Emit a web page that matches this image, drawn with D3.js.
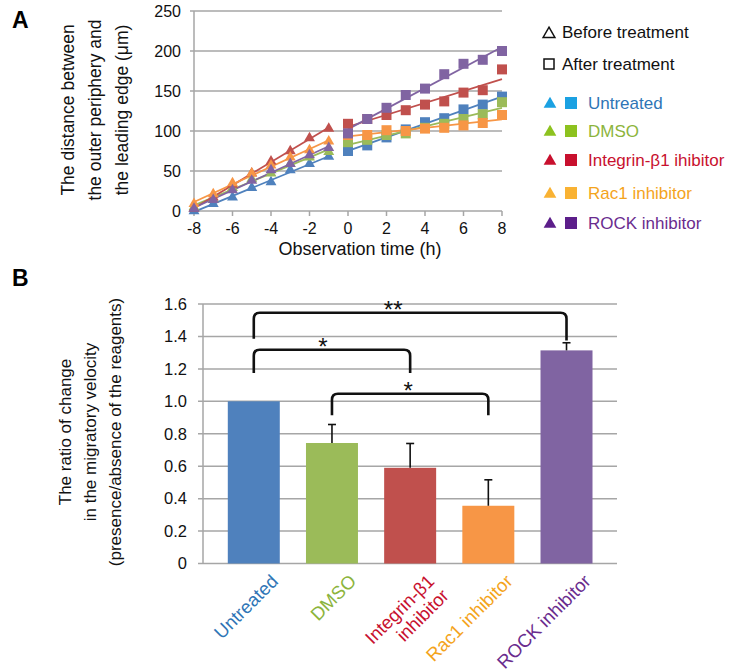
<!DOCTYPE html>
<html><head><meta charset="utf-8">
<script src="https://cdn.jsdelivr.net/npm/d3@7"></script>
<style>
body{margin:0;background:#fff;}
svg{display:block;font-family:"Liberation Sans",Arial,sans-serif;}
</style></head>
<body>
<svg id="c" width="745" height="672"></svg>
<script>
// ---------- DATA ----------
const groups = ["Untreated","DMSO","Integrin-β1 ihibitor","Rac1 inhibitor","ROCK inhibitor"];
const beforeTime = [-8,-7,-6,-5,-4,-3,-2,-1];
const afterTime = [0,1,2,3,4,5,6,7,8];
const untreatedBefore = [0, 9, 17, 29, 36, 51, 59, 68];
const dmsoBefore      = [5, 15, 29, 40, 47, 59, 67, 74];
const integrinBefore  = [3, 17, 33, 47, 62, 75, 91, 103];
const rac1Before      = [9, 21, 35, 47, 57, 67, 76, 87];
const rockBefore      = [3, 14, 26, 38, 51, 59, 70, 79];
const untreatedAfter = [75, 82, 92, 102, 111, 116, 127, 133, 143];
const dmsoAfter      = [86, 89, 95, 97, 104, 109, 115, 121, 136];
const integrinAfter  = [109, 115, 120, 126, 133, 137, 148, 151, 177];
const rac1After      = [95, 95, 101, 100, 103, 104, 107, 110, 120];
const rockAfter      = [97, 115, 129, 145, 153, 171, 184, 189, 200];
const yTicksA = [0,50,100,150,200,250];
const xTicksA = [-8,-6,-4,-2,0,2,4,6,8];

const barCategories = ["Untreated","DMSO","Integrin-β1\ninhibitor","Rac1 inhibitor","ROCK inhibitor"];
const barValues = [1.0, 0.743, 0.59, 0.356, 1.314];
const barErrors = [0, 0.114, 0.15, 0.16, 0.047];
const yTicksB = [0,0.2,0.4,0.6,0.8,1.0,1.2,1.4,1.6];
const brackets = [
  {from:0, to:4, top:1.546, legL:1.386, legR:1.375, label:"**", dx:-17},
  {from:0, to:2, top:1.318, legL:1.174, legR:1.174, label:"*", dx:-9},
  {from:1, to:3, top:1.047, legL:0.914, legR:0.914, label:"*", dx:-2}
];

// ---------- STYLE ----------
const seriesColor = ["#4F81BD","#9BBB59","#C0504D","#F79646","#8064A2"];
const legendMarkColor = ["#1BA1E2","#8DC21F","#C8102E","#F9B233","#5C1E8A"];
const legendTextColor = ["#2E75B6","#8CB43C","#C8102E","#F4A41C","#6A2C8E"];
const grid = "#a6a6a6";

const svg = d3.select("#c");
const beforeSeries = [untreatedBefore,dmsoBefore,integrinBefore,rac1Before,rockBefore];
const afterSeries = [untreatedAfter,dmsoAfter,integrinAfter,rac1After,rockAfter];

// ---------- PANEL A ----------
const xA = d3.scaleLinear().domain([-8,8]).range([194,502]);
const yA = d3.scaleLinear().domain([0,250]).range([211,11]);
const gA = svg.append("g");

gA.selectAll("line.grid").data(yTicksA.filter(d=>d>0)).join("line")
  .attr("x1",190).attr("x2",502).attr("y1",d=>yA(d)).attr("y2",d=>yA(d))
  .attr("stroke",grid).attr("stroke-width",1.5);
gA.append("line").attr("x1",xA(-8)).attr("x2",xA(-8)).attr("y1",yA(250)).attr("y2",yA(0)).attr("stroke",grid).attr("stroke-width",1.5);
gA.append("line").attr("x1",190).attr("x2",xA(8)).attr("y1",yA(0)).attr("y2",yA(0)).attr("stroke",grid).attr("stroke-width",1.5);
gA.selectAll("line.xt").data(xTicksA).join("line")
  .attr("x1",d=>xA(d)).attr("x2",d=>xA(d)).attr("y1",yA(0)).attr("y2",yA(0)+5)
  .attr("stroke",grid).attr("stroke-width",1.5);
gA.selectAll("text.yt").data(yTicksA).join("text")
  .attr("x",181).attr("y",d=>yA(d)).attr("dy","0.35em").attr("text-anchor","end")
  .attr("font-size",16).attr("fill","#111").text(d=>d);
gA.selectAll("text.xt").data(xTicksA).join("text")
  .attr("x",d=>xA(d)).attr("y",234).attr("text-anchor","middle")
  .attr("font-size",16).attr("fill","#111").text(d=>d);
gA.append("text").attr("x",360).attr("y",255).attr("text-anchor","middle")
  .attr("font-size",18).attr("fill","#111").text("Observation time (h)");
const yLabA = ["The distance between","the outer periphery and","the leading edge (μm)"];
yLabA.forEach((t,i)=>{
  gA.append("text").attr("transform",`translate(${74+i*27},110) rotate(-90)`)
    .attr("text-anchor","middle").attr("font-size",17.5).attr("fill","#111").text(t);
});
svg.append("text").attr("x",12).attr("y",28).attr("font-size",23).attr("font-weight","bold").text("A");

function fit(xs,ys){
  const mx=d3.mean(xs), my=d3.mean(ys);
  let sxy=0,sxx=0; xs.forEach((x,i)=>{sxy+=(x-mx)*(ys[i]-my); sxx+=(x-mx)*(x-mx);});
  const b=sxy/sxx, a=my-b*mx; return x=>a+b*x;
}
const tri = d3.symbol().type(d3.symbolTriangle).size(52);
const sq = d3.symbol().type(d3.symbolSquare).size(100);
groups.forEach((g,i)=>{
  const c = seriesColor[i];
  const fb = fit(beforeTime,beforeSeries[i]);
  const fa = fit(afterTime,afterSeries[i]);
  gA.append("line").attr("x1",xA(-8)).attr("y1",yA(fb(-8))).attr("x2",xA(-1)).attr("y2",yA(fb(-1)))
    .attr("stroke",c).attr("stroke-width",1.8);
  gA.append("line").attr("x1",xA(0)).attr("y1",yA(fa(0))).attr("x2",xA(8)).attr("y2",yA(fa(8)))
    .attr("stroke",c).attr("stroke-width",1.8);
});
groups.forEach((g,i)=>{
  const c = seriesColor[i];
  gA.selectAll(null).data(beforeTime.map((t,k)=>[t,beforeSeries[i][k]])).join("path")
    .attr("d",tri).attr("transform",d=>`translate(${xA(d[0])},${yA(d[1])})`).attr("fill",c);
  gA.selectAll(null).data(afterTime.map((t,k)=>[t,afterSeries[i][k]])).join("path")
    .attr("d",sq).attr("transform",d=>`translate(${xA(d[0])},${yA(d[1])})`).attr("fill",c);
});
// legend
const lg = svg.append("g");
lg.append("path").attr("d",d3.symbol().type(d3.symbolTriangle).size(60)).attr("transform","translate(549,34)")
  .attr("fill","none").attr("stroke","#111").attr("stroke-width",1.5);
lg.append("text").attr("x",562).attr("y",38).attr("font-size",17).attr("fill","#111").text("Before treatment");
lg.append("rect").attr("x",544).attr("y",59).attr("width",10).attr("height",10)
  .attr("fill","none").attr("stroke","#111").attr("stroke-width",1.5);
lg.append("text").attr("x",562).attr("y",70).attr("font-size",17).attr("fill","#111").text("After treatment");
const legY = [103,131,160,193,223];
groups.forEach((g,i)=>{
  lg.append("path").attr("d",d3.symbol().type(d3.symbolTriangle).size(70))
    .attr("transform",`translate(550,${legY[i]+1})`).attr("fill",legendMarkColor[i]);
  lg.append("rect").attr("x",565).attr("y",legY[i]-6).attr("width",12).attr("height",12).attr("fill",legendMarkColor[i]);
  lg.append("text").attr("x",588).attr("y",legY[i]).attr("dy","0.35em").attr("font-size",17)
    .attr("fill",legendTextColor[i]).text(g);
});

// ---------- PANEL B ----------
const xB = d3.scaleBand().domain(barCategories).range([214.7,605.6]).paddingInner(0.335).paddingOuter(0.1675);
const yB = d3.scaleLinear().domain([0,1.6]).range([563.5,304]);
const gB = svg.append("g");
gB.selectAll("line.grid").data(yTicksB).join("line")
  .attr("x1",198).attr("x2",617).attr("y1",d=>yB(d)).attr("y2",d=>yB(d))
  .attr("stroke",grid).attr("stroke-width",1.5);
gB.append("line").attr("x1",203).attr("x2",203).attr("y1",yB(1.6)).attr("y2",yB(0)).attr("stroke",grid).attr("stroke-width",1.5);
gB.selectAll("text.yt").data(yTicksB).join("text")
  .attr("x",187).attr("y",d=>yB(d)).attr("dy","0.35em").attr("text-anchor","end")
  .attr("font-size",16.5).attr("fill","#111").text(d=>d===0?"0":d.toFixed(1));
gB.selectAll("rect.bar").data(barCategories).join("rect")
  .attr("x",d=>xB(d)).attr("width",xB.bandwidth())
  .attr("y",(d,i)=>yB(barValues[i])).attr("height",(d,i)=>yB(0)-yB(barValues[i]))
  .attr("fill",(d,i)=>seriesColor[i]);
barCategories.forEach((c,i)=>{
  if(!barErrors[i]) return;
  const cx = xB(c)+xB.bandwidth()/2;
  gB.append("line").attr("x1",cx).attr("x2",cx).attr("y1",yB(barValues[i])).attr("y2",yB(barValues[i]+barErrors[i]))
    .attr("stroke","#111").attr("stroke-width",1.6);
  gB.append("line").attr("x1",cx-4).attr("x2",cx+4).attr("y1",yB(barValues[i]+barErrors[i])).attr("y2",yB(barValues[i]+barErrors[i]))
    .attr("stroke","#111").attr("stroke-width",1.6);
});
brackets.forEach(b=>{
  const x1 = xB(barCategories[b.from])+xB.bandwidth()/2;
  const x2 = xB(barCategories[b.to])+xB.bandwidth()/2;
  const yt = yB(b.top), r=6;
  const p = `M${x1},${yB(b.legL)} L${x1},${yt+r} Q${x1},${yt} ${x1+r},${yt} L${x2-r},${yt} Q${x2},${yt} ${x2},${yt+r} L${x2},${yB(b.legR)}`;
  gB.append("path").attr("d",p).attr("fill","none").attr("stroke","#111").attr("stroke-width",2.6);
  gB.append("text").attr("x",(x1+x2)/2+b.dx).attr("y",yt+5).attr("text-anchor","middle")
    .attr("font-size",24).attr("fill","#111").text(b.label);
});
barCategories.forEach((c,i)=>{
  const cx = xB(c)+xB.bandwidth()/2;
  const t = gB.append("text").attr("transform",`translate(${cx+16},573) rotate(-45)`)
    .attr("text-anchor","end").attr("font-size",18.5).attr("fill",legendTextColor[i]);
  c.split("\n").forEach((ln,k)=>{
    t.append("tspan").attr("x",0).attr("dy",k===0?"0.72em":"1.1em").text(ln);
  });
});
const yLabB = ["The ratio of change","in the migratory velocity","(presence/absence of the reagents)"];
yLabB.forEach((t,i)=>{
  gB.append("text").attr("transform",`translate(${71+i*25},432) rotate(-90)`)
    .attr("text-anchor","middle").attr("font-size",17).attr("fill","#111").text(t);
});
svg.append("text").attr("x",12).attr("y",286).attr("font-size",23).attr("font-weight","bold").text("B");
</script>
</body></html>
